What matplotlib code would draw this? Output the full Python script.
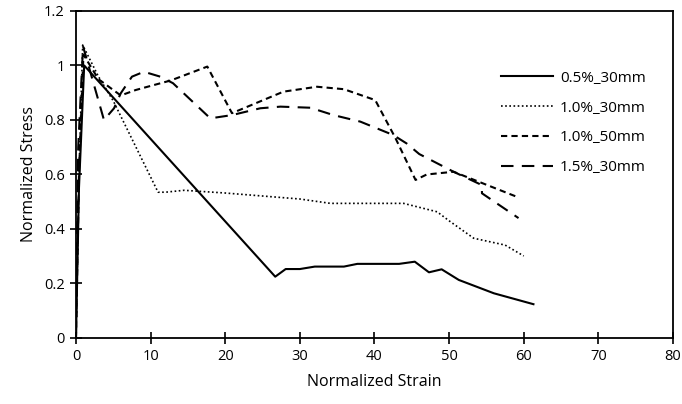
import matplotlib
matplotlib.use('Agg')
import matplotlib.pyplot as plt

plt.rcParams['font.family'] = ['Open Sans', 'DejaVu Sans']

# 0.5%_30mm
x_05_30 = [0, 0.4, 1.1, 26.7, 28.1, 30.0, 32.0, 34.1, 35.9, 37.7, 43.3, 45.4, 47.3, 49.0, 51.3, 56.0, 61.3]
y_05_30 = [0, 0.55, 1.0, 0.225, 0.253, 0.253, 0.262, 0.262, 0.262, 0.272, 0.272, 0.28, 0.241, 0.252, 0.213, 0.164, 0.124]

# 1.0%_30mm
x_10_30 = [0, 0.4, 0.9, 3.0, 5.0, 11.0, 12.0, 14.5, 20.0, 30.0, 34.1, 38.1, 43.9, 48.4, 50.0, 53.3, 57.5, 60.0]
y_10_30 = [0, 0.6, 1.075, 0.96, 0.87, 0.535, 0.535, 0.542, 0.532, 0.51, 0.494, 0.494, 0.494, 0.463, 0.43, 0.366, 0.341, 0.301]

# 1.0%_50mm
x_10_50 = [0, 0.4, 1.0, 3.0, 6.0, 8.0, 10.0, 12.7, 17.6, 20.9, 27.8, 32.3, 35.9, 40.1, 42.8, 45.5, 47.0, 50.6, 58.9]
y_10_50 = [0, 0.6, 1.04, 0.95, 0.89, 0.91, 0.925, 0.945, 0.996, 0.825, 0.904, 0.922, 0.913, 0.873, 0.734, 0.58, 0.6, 0.61, 0.52]

# 1.5%_30mm
x_15_30 = [0, 0.3, 0.95, 3.75, 5.1, 6.0, 7.5, 9.1, 11.3, 13.0, 18.0, 20.9, 24.7, 27.4, 31.4, 34.5, 38.1, 42.5, 44.3, 46.0, 50.6, 54.4, 54.4, 59.3]
y_15_30 = [0, 0.7, 1.07, 0.80, 0.843, 0.898, 0.959, 0.977, 0.959, 0.935, 0.806, 0.818, 0.843, 0.849, 0.845, 0.818, 0.794, 0.745, 0.714, 0.675, 0.61, 0.561, 0.531, 0.44]

labels = ['0.5%_30mm', '1.0%_30mm', '1.0%_50mm', '1.5%_30mm']
x_ticks = [0, 10, 20, 30, 40, 50, 60, 70, 80]
y_ticks = [0, 0.2, 0.4, 0.6, 0.8, 1.0, 1.2]
y_tick_labels = ['0', '0.2', '0.4', '0.6', '0.8', '1', '1.2']

fig = plt.figure(figsize=(6.82, 4.04), dpi=100)
ax = fig.add_axes([0.1114, 0.1634, 0.8754, 0.8094])

ax.plot(x_05_30, y_05_30, color='black', lw=1.5, ls='-', label=labels[0])
ax.plot(x_10_30, y_10_30, color='black', lw=1.2, ls=(0, (1, 1.5)), label=labels[1])
ax.plot(x_10_50, y_10_50, color='black', lw=1.5, ls=(0, (3, 2)), label=labels[2])
ax.plot(x_15_30, y_15_30, color='black', lw=1.5, ls=(0, (6, 4)), label=labels[3])

ax.set_xlim(0, 80)
ax.set_ylim(0, 1.2)
ax.set_xticks(x_ticks)
ax.set_yticks(y_ticks)
ax.set_yticklabels(y_tick_labels)
ax.tick_params(direction='inout', length=8, width=1.2, labelsize=10.5, pad=4)
for s in ax.spines.values():
    s.set_linewidth(1.3)

ax.set_xlabel('Normalized Strain', fontsize=11.5, labelpad=7)
ax.set_ylabel('Normalized Stress', fontsize=11.5, labelpad=5)

ax.legend(loc='upper left', bbox_to_anchor=(0.689, 0.859), frameon=False,
          fontsize=11, handlelength=3.4, labelspacing=0.97, handletextpad=0.45)

fig.savefig('out.png', dpi=100)
